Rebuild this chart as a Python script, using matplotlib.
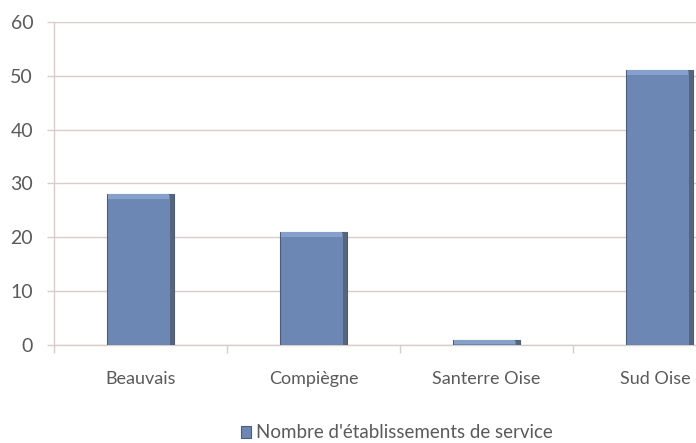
import matplotlib.pyplot as plt
import matplotlib.transforms as mtransforms
import numpy as np

categories = ['Beauvais', 'Compiègne', 'Santerre Oise', 'Sud Oise']
values = [28, 21, 1, 51]
series_label = "Nombre d'établissements de service"

BAR_COLOR = '#6d87b4'
EDGE_COLOR = '#4d5c78'
SIDE_COLOR = '#56647c'
TOP_COLOR = '#86a0cc'
GRID_COLOR = '#d8cdcb'
TEXT_COLOR = '#5a5a5a'

plt.rcParams['font.family'] = ['Lato', 'DejaVu Sans']

fig = plt.figure(figsize=(6.96, 4.43), dpi=100)
# plot area runs past the right edge, as in the cropped original
ax = fig.add_axes([54 / 696, 98 / 443, 692 / 696, 323 / 443])

x = np.arange(len(categories))
width = 0.39
side = 0.025
cap = 0.9

vals = np.array(values, dtype=float)
ax.bar(x, vals, width, color=BAR_COLOR, edgecolor=EDGE_COLOR, linewidth=0.8, zorder=3,
       label=series_label)
# darker right face
ax.bar(x + width / 2 - side / 2, vals, side, color=SIDE_COLOR, linewidth=0, zorder=4)
# lighter bevel on top
caps = np.minimum(cap, vals)
ax.bar(x - side / 2, caps, width - side - 0.01, bottom=vals - caps, color=TOP_COLOR,
       linewidth=0, zorder=4)

ax.set_xlim(-0.5, len(categories) - 0.5)
ax.set_ylim(0, 60)
ax.set_yticks(range(0, 61, 10))
ax.set_xticks(x)
ax.set_xticklabels(categories)
ax.set_xticks(np.arange(-0.5, len(categories)), minor=True)

ax.yaxis.grid(True, color=GRID_COLOR, linewidth=1, zorder=0)
ax.set_axisbelow(True)

for s in ['top', 'right']:
    ax.spines[s].set_visible(False)
ax.spines['left'].set_color(GRID_COLOR)
ax.spines['bottom'].set_color(GRID_COLOR)
ax.spines['left'].set_linewidth(1)
ax.spines['bottom'].set_linewidth(1)

ax.tick_params(axis='y', colors=GRID_COLOR, labelcolor=TEXT_COLOR, length=5, width=1,
               labelsize=14, pad=10)
ax.tick_params(axis='x', which='major', length=0, labelcolor=TEXT_COLOR, labelsize=13, pad=19)
ax.tick_params(axis='x', which='minor', length=6, width=1, color=GRID_COLOR)

# last label sits at the cropped edge, nudge it a few pixels inside
shift = mtransforms.ScaledTranslation(-4 / 100, 0, fig.dpi_scale_trans)
last = ax.get_xticklabels()[-1]
last.set_transform(last.get_transform() + shift)

handles, labels = ax.get_legend_handles_labels()
fig.legend(handles[:1], labels[:1], loc='center', bbox_to_anchor=(397 / 696, 1 - 433 / 443),
           frameon=False, fontsize=13.5, labelcolor=TEXT_COLOR, handlelength=0.55,
           handleheight=0.55, handletextpad=0.25)

fig.savefig('out.png', dpi=100)
